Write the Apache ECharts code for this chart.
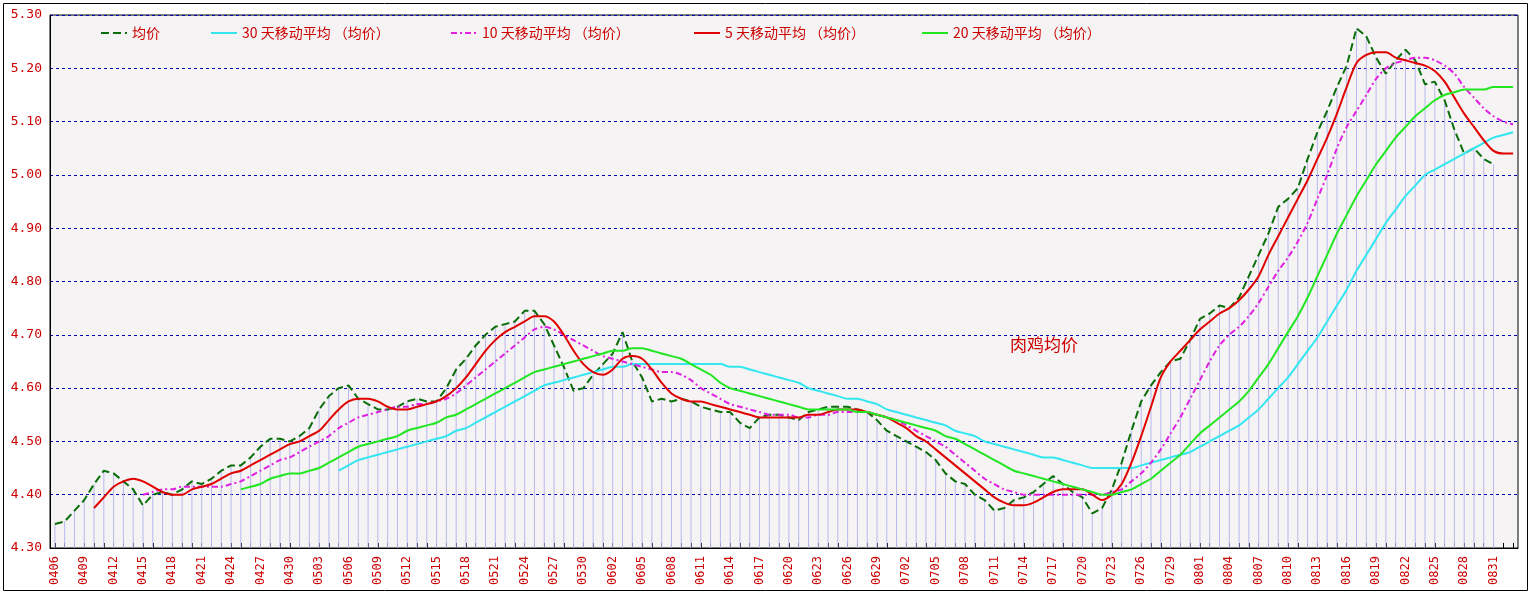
<!DOCTYPE html>
<html><head><meta charset="utf-8">
<script src="https://cdn.jsdelivr.net/npm/echarts@6/dist/echarts.min.js"></script>
<style>html,body{margin:0;padding:0;background:#fff}#c{width:1533px;height:616px}</style>
</head><body><div id="c"></div>
<script>
// categories 0406 .. 0902
const monthDays = {4:30,5:31,6:30,7:31,8:31,9:30};
const categories = [];
(function(){let m=4,d=6;while(!(m===9&&d>2)){categories.push(String(m).padStart(2,'0')+String(d).padStart(2,'0'));d++;if(d>monthDays[m]){d=1;m++;}}})();
const yTicks = [4.30,4.40,4.50,4.60,4.70,4.80,4.90,5.00,5.10,5.20,5.30];

const price = [
 4.345,4.35,4.37,4.39,4.42,4.445,4.44,4.425,4.41,4.38,4.40,4.405,4.40,4.41,4.425,4.42,4.43,4.445,4.455,4.455,4.47,4.49,4.505,4.505,4.50,
 4.51,4.525,4.56,4.585,4.60,4.605,4.58,4.57,4.56,4.56,4.565,4.575,4.58,4.575,4.575,4.60,4.635,4.655,4.68,4.70,4.715,4.72,4.725,4.745,4.745,4.72,4.68,4.64,4.595,4.60,4.625,
 4.645,4.665,4.705,4.65,4.62,4.575,4.58,4.575,4.58,4.575,4.565,4.56,4.555,4.555,4.535,4.525,4.545,4.55,4.55,4.545,4.54,4.555,4.56,4.565,4.565,4.565,4.56,4.555,4.54,4.52,
 4.51,4.50,4.49,4.48,4.465,4.44,4.425,4.42,4.40,4.39,4.37,4.375,4.39,4.395,4.405,4.42,4.435,4.42,4.405,4.395,4.365,4.375,4.41,4.46,4.52,4.575,4.605,4.63,4.65,4.655,4.69,
 4.73,4.74,4.755,4.75,4.77,4.81,4.85,4.89,4.94,4.955,4.975,5.03,5.08,5.12,5.165,5.205,5.275,5.26,5.22,5.19,5.215,5.235,5.215,5.17,5.175,5.14,5.085,5.04,5.05,5.03,5.02,
 null,null
];
const ma5 = [null,null,null,null,
 4.375,4.395,4.415,4.425,4.43,4.425,4.415,4.405,4.40,4.40,4.41,4.415,4.42,4.43,4.44,4.445,4.455,4.465,4.475,4.485,4.495,
 4.50,4.51,4.52,4.54,4.56,4.575,4.58,4.58,4.575,4.565,4.56,4.56,4.565,4.57,4.575,4.585,4.60,4.62,4.645,4.67,4.69,4.705,4.715,4.725,4.735,4.735,4.725,4.70,4.67,4.645,4.63,
 4.625,4.635,4.655,4.66,4.655,4.635,4.61,4.59,4.58,4.575,4.575,4.57,4.565,4.56,4.555,4.55,4.545,4.545,4.545,4.545,4.545,4.55,4.55,4.555,4.56,4.56,4.56,4.555,4.55,4.545,
 4.535,4.525,4.51,4.50,4.485,4.47,4.455,4.44,4.425,4.41,4.395,4.385,4.38,4.38,4.385,4.395,4.405,4.41,4.41,4.41,4.40,4.39,4.40,4.42,4.46,4.51,4.565,4.62,4.65,4.67,4.69,
 4.71,4.725,4.74,4.75,4.765,4.785,4.81,4.85,4.885,4.92,4.955,4.99,5.03,5.07,5.115,5.165,5.21,5.225,5.23,5.23,5.22,5.215,5.21,5.205,5.195,5.175,5.145,5.115,5.09,5.065,5.045,
 5.04,5.04];
const ma10 = [null,null,null,null,null,null,null,null,null,
 4.40,4.405,4.41,4.41,4.415,4.415,4.415,4.415,4.415,4.42,4.425,4.435,4.445,4.455,4.465,4.47,
 4.48,4.49,4.50,4.51,4.525,4.535,4.545,4.55,4.555,4.56,4.565,4.565,4.57,4.57,4.575,4.58,4.59,4.605,4.62,4.635,4.65,4.665,4.68,4.695,4.71,4.715,4.71,4.70,4.69,4.68,4.67,
 4.66,4.655,4.65,4.645,4.64,4.635,4.63,4.63,4.625,4.615,4.60,4.59,4.58,4.57,4.565,4.56,4.555,4.55,4.55,4.55,4.545,4.545,4.55,4.55,4.555,4.555,4.555,4.555,4.55,4.545,
 4.54,4.53,4.52,4.51,4.50,4.49,4.475,4.46,4.445,4.43,4.42,4.41,4.405,4.40,4.40,4.40,4.40,4.40,4.40,4.40,4.40,4.40,4.405,4.41,4.425,4.44,4.46,4.485,4.515,4.545,4.58,
 4.615,4.65,4.68,4.70,4.715,4.735,4.76,4.79,4.82,4.845,4.875,4.91,4.955,5.00,5.05,5.09,5.12,5.15,5.18,5.20,5.21,5.215,5.22,5.22,5.215,5.205,5.19,5.165,5.145,5.125,5.11,
 5.10,5.095];
const ma20 = [null,null,null,null,null,null,null,null,null,null,null,null,null,null,null,null,null,null,null,
 4.41,4.415,4.42,4.43,4.435,4.44,
 4.44,4.445,4.45,4.46,4.47,4.48,4.49,4.495,4.50,4.505,4.51,4.52,4.525,4.53,4.535,4.545,4.55,4.56,4.57,4.58,4.59,4.60,4.61,4.62,4.63,4.635,4.64,4.645,4.65,4.655,4.66,
 4.665,4.67,4.67,4.675,4.675,4.67,4.665,4.66,4.655,4.645,4.635,4.625,4.61,4.60,4.595,4.59,4.585,4.58,4.575,4.57,4.565,4.56,4.56,4.56,4.56,4.56,4.555,4.555,4.55,4.545,
 4.54,4.535,4.53,4.525,4.52,4.51,4.505,4.495,4.485,4.475,4.465,4.455,4.445,4.44,4.435,4.43,4.425,4.42,4.415,4.41,4.405,4.40,4.40,4.405,4.41,4.42,4.43,4.445,4.46,4.475,4.495,
 4.515,4.53,4.545,4.56,4.575,4.595,4.62,4.645,4.675,4.705,4.735,4.77,4.81,4.85,4.89,4.925,4.96,4.99,5.02,5.045,5.07,5.09,5.11,5.125,5.14,5.15,5.155,5.16,5.16,5.16,5.165,
 5.165,5.165];
const ma30 = [null,null,null,null,null,null,null,null,null,null,null,null,null,null,null,null,null,null,null,null,null,null,null,null,null,
 null,null,null,null,4.445,4.455,4.465,4.47,4.475,4.48,4.485,4.49,4.495,4.50,4.505,4.51,4.52,4.525,4.535,4.545,4.555,4.565,4.575,4.585,4.595,4.605,4.61,4.615,4.62,4.625,4.63,
 4.635,4.64,4.64,4.645,4.645,4.645,4.645,4.645,4.645,4.645,4.645,4.645,4.645,4.64,4.64,4.635,4.63,4.625,4.62,4.615,4.61,4.60,4.595,4.59,4.585,4.58,4.58,4.575,4.57,4.56,
 4.555,4.55,4.545,4.54,4.535,4.53,4.52,4.515,4.51,4.50,4.495,4.49,4.485,4.48,4.475,4.47,4.47,4.465,4.46,4.455,4.45,4.45,4.45,4.45,4.45,4.455,4.46,4.465,4.47,4.475,4.48,
 4.49,4.50,4.51,4.52,4.53,4.545,4.56,4.58,4.60,4.62,4.645,4.67,4.695,4.725,4.755,4.785,4.82,4.85,4.88,4.91,4.935,4.96,4.98,5.00,5.01,5.02,5.03,5.04,5.05,5.06,5.07,
 5.075,5.08];

const RED = '#cc0000';
const names = ['均价','30 天移动平均 （均价）','10 天移动平均 （均价）','5 天移动平均 （均价）','20 天移动平均 （均价）'];
const legendX = [95,205,445,688,916];
const chart = echarts.init(document.getElementById('c'));
const lineBase = {type:'line',symbol:'none',smooth:0.3,connectNulls:false,z:3};
chart.setOption({
  animation:false,
  backgroundColor:'#fff',
  graphic:[{type:'rect',shape:{x:3.5,y:3.5,width:1524,height:587},style:{fill:'none',stroke:'#000',lineWidth:1},z:-1}],
  title:{text:'肉鸡均价',left:1005,top:331,textStyle:{color:RED,fontSize:17,fontWeight:'normal',fontFamily:'Noto Sans CJK SC'}},
  legend: names.map((n,i)=>({data:[n],left:legendX[i],top:21,itemWidth:26,itemHeight:10,itemGap:4,
    itemStyle:{opacity:0},
    textStyle:{color:RED,fontSize:14,fontFamily:'Noto Sans CJK SC'}})),
  grid:{left:50,right:15,top:15,bottom:68,show:true,borderColor:'#000',borderWidth:1,backgroundColor:'#f5f3f3'},
  xAxis:{type:'category',data:categories,boundaryGap:true,
    axisLine:{lineStyle:{color:'#000'}},
    axisTick:{show:true,inside:true,length:5,interval:0,alignWithLabel:true,lineStyle:{color:'#000'}},
    axisLabel:{interval:2,rotate:90,color:RED,fontSize:12,fontFamily:'DejaVu Sans Mono',margin:8},
    splitLine:{show:false}},
  yAxis:{type:'value',min:4.30,max:5.30,interval:0.10,
    axisLine:{show:true,lineStyle:{color:'#000'}},axisTick:{show:false},
    axisLabel:{color:RED,fontSize:13,fontFamily:'DejaVu Sans Mono',formatter:v=>v.toFixed(2),margin:8},
    splitLine:{lineStyle:{color:'#0000b0',type:[3,3],width:1}}},
  series:[
    {type:'bar',data:price,barWidth:1,itemStyle:{color:'#b8b8f0'},z:1,silent:true,legendHoverLink:false,tooltip:{show:false}},
    Object.assign({},lineBase,{name:names[0],data:price,smooth:false,itemStyle:{color:'#0a6e0a'},lineStyle:{color:'#0a6e0a',width:2,type:[8,4]}}),
    Object.assign({},lineBase,{name:names[1],data:ma30,itemStyle:{color:'#33e6f0'},lineStyle:{color:'#33e6f0',width:2}}),
    Object.assign({},lineBase,{name:names[2],data:ma10,itemStyle:{color:'#e020e0'},lineStyle:{color:'#e020e0',width:2,type:[6,3,2,3]}}),
    Object.assign({},lineBase,{name:names[3],data:ma5,itemStyle:{color:'#e00000'},lineStyle:{color:'#e00000',width:2}}),
    Object.assign({},lineBase,{name:names[4],data:ma20,itemStyle:{color:'#22e622'},lineStyle:{color:'#22e622',width:2}})
  ]
});
</script></body></html>
